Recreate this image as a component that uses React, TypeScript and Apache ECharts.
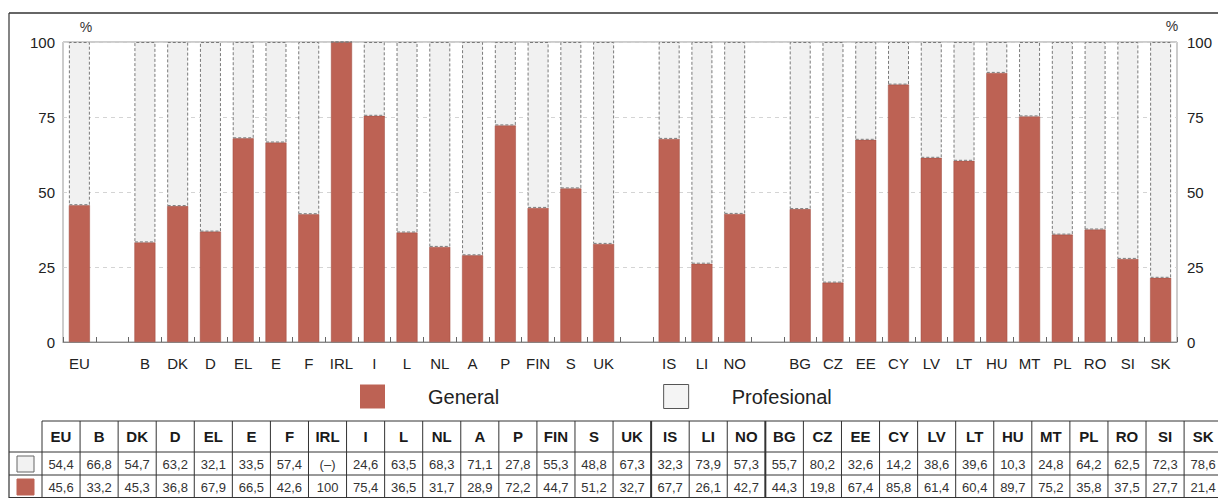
import React, { useEffect, useRef } from "react";
import * as echarts from "echarts";

// Table order (no gaps)
const countries = ["EU", "B", "DK", "D", "EL", "E", "F", "IRL", "I", "L", "NL", "A", "P", "FIN", "S", "UK", "IS", "LI", "NO", "BG", "CZ", "EE", "CY", "LV", "LT", "HU", "MT", "PL", "RO", "SI", "SK"];
const profesional: (number | null)[] = [54.4, 66.8, 54.7, 63.2, 32.1, 33.5, 57.4, null, 24.6, 63.5, 68.3, 71.1, 27.8, 55.3, 48.8, 67.3, 32.3, 73.9, 57.3, 55.7, 80.2, 32.6, 14.2, 38.6, 39.6, 10.3, 24.8, 64.2, 62.5, 72.3, 78.6];
const general: number[] = [45.6, 33.2, 45.3, 36.8, 67.9, 66.5, 42.6, 100, 75.4, 36.5, 31.7, 28.9, 72.2, 44.7, 51.2, 32.7, 67.7, 26.1, 42.7, 44.3, 19.8, 67.4, 85.8, 61.4, 60.4, 89.7, 75.2, 35.8, 37.5, 27.7, 21.4];
// Chart axis order (with empty gap slots)
const axisCategories = ["EU", " ", "B", "DK", "D", "EL", "E", "F", "IRL", "I", "L", "NL", "A", "P", "FIN", "S", "UK", "  ", "IS", "LI", "NO", "   ", "BG", "CZ", "EE", "CY", "LV", "LT", "HU", "MT", "PL", "RO", "SI", "SK"];
const yTicks = [0, 25, 50, 75, 100];
const seriesNames = ["General", "Profesional"];

const RED = "#bd6254";
const FONT = "'Liberation Sans', Arial, sans-serif";

function fmt(v: number | null): string {
  if (v === null) return "(–)";
  return Number.isInteger(v) ? String(v) : v.toFixed(1).replace(".", ",");
}

export default function App() {
  const ref = useRef<HTMLDivElement>(null);
  useEffect(() => {
    if (!ref.current) return;
    const chart = echarts.init(ref.current, null, { renderer: "svg" });

    const genData = axisCategories.map((c) => {
      const i = countries.indexOf(c);
      return i >= 0 ? general[i] : null;
    });
    const proData = axisCategories.map((c) => {
      const i = countries.indexOf(c);
      return i >= 0 ? (profesional[i] === null ? 0 : profesional[i]) : null;
    });

    // Table graphics
    const g: any[] = [];
    const x0 = 42;
    const colW = 38.07;
    const yH = 421, y1 = 452, y2 = 475, y3 = 498;
    const lineStyle = { stroke: "#333", lineWidth: 1 };
    g.push({ type: "line", shape: { x1: 9, y1: 13, x2: 1218, y2: 13 }, style: { stroke: "#333", lineWidth: 1.5 } });
    g.push({ type: "line", shape: { x1: 9, y1: 13, x2: 9, y2: 498 }, style: { stroke: "#333", lineWidth: 1.2 } });
    g.push({ type: "line", shape: { x1: x0, y1: yH, x2: 1218, y2: yH }, style: lineStyle });
    g.push({ type: "line", shape: { x1: 9, y1: y1, x2: 1218, y2: y1 }, style: lineStyle });
    g.push({ type: "line", shape: { x1: 9, y1: y2, x2: 1218, y2: y2 }, style: lineStyle });
    g.push({ type: "line", shape: { x1: 9, y1: y3 - 0.5, x2: 1218, y2: y3 - 0.5 }, style: lineStyle });
    for (let i = 0; i <= countries.length; i++) {
      const x = x0 + i * colW;
      const thick = i === 16 || i === 19;
      g.push({ type: "line", shape: { x1: x, y1: yH, x2: x, y2: y3 }, style: { stroke: "#333", lineWidth: thick ? 2 : 1 } });
    }
    countries.forEach((c, i) => {
      const cx = x0 + (i + 0.5) * colW;
      g.push({ type: "text", x: cx, y: (yH + y1) / 2, style: { text: c, font: `bold 15px ${FONT}`, fill: "#1a1a1a", align: "center", verticalAlign: "middle" } });
      g.push({ type: "text", x: cx, y: (y1 + y2) / 2 + 0.5, style: { text: fmt(profesional[i]), font: `13px ${FONT}`, fill: "#333", align: "center", verticalAlign: "middle" } });
      g.push({ type: "text", x: cx, y: (y2 + y3) / 2 + 0.5, style: { text: fmt(general[i]), font: `13px ${FONT}`, fill: "#333", align: "center", verticalAlign: "middle" } });
    });
    g.push({ type: "rect", shape: { x: 17, y: 456, width: 17, height: 16 }, style: { fill: "#f2f2f2", stroke: "#666", lineWidth: 1 } });
    g.push({ type: "rect", shape: { x: 17, y: 479, width: 17, height: 16 }, style: { fill: RED, stroke: RED, lineWidth: 1 } });
    // % labels
    g.push({ type: "text", x: 86, y: 27, style: { text: "%", font: `14px ${FONT}`, fill: "#333", align: "center", verticalAlign: "middle" } });
    g.push({ type: "text", x: 1172, y: 26, style: { text: "%", font: `14px ${FONT}`, fill: "#333", align: "center", verticalAlign: "middle" } });

    const yAxisBase = {
      type: "value",
      min: 0,
      max: 100,
      interval: 25,
      axisLine: { show: false },
      axisTick: { show: false },
      axisLabel: { fontSize: 15, color: "#222", fontFamily: FONT, customValues: yTicks },
    };

    chart.setOption({
      animation: false,
      backgroundColor: "#fff",
      textStyle: { fontFamily: FONT },
      grid: { left: 63, right: 41, top: 42, bottom: 156, show: true, borderColor: "#999", borderWidth: 1 },
      legend: {
        left: 355,
        top: 379,
        icon: "rect",
        itemWidth: 25,
        itemHeight: 24,
        itemGap: 164,
        textStyle: { fontSize: 20, color: "#222", fontFamily: FONT, padding: [0, 0, 0, 38] },
        data: [
          { name: seriesNames[0], itemStyle: { color: RED, borderWidth: 0 } },
          { name: seriesNames[1], itemStyle: { color: "#f4f4f4", borderColor: "#555", borderWidth: 1, borderType: "solid" } },
        ],
      },
      xAxis: {
        type: "category",
        data: axisCategories,
        axisLine: { lineStyle: { color: "#888" } },
        axisTick: { show: true, inside: true, length: 5, interval: 0, lineStyle: { color: "#666" } },
        axisLabel: { fontSize: 15, color: "#222", margin: 14, interval: 0, fontFamily: FONT },
      },
      yAxis: [
        { ...yAxisBase, position: "left", axisLabel: { ...yAxisBase.axisLabel, margin: 8 }, splitLine: { show: true, lineStyle: { color: "#d4d4d4", type: [4, 4], width: 1 } } },
        { ...yAxisBase, position: "right", axisLabel: { ...yAxisBase.axisLabel, margin: 10 }, splitLine: { show: false } },
      ],
      series: [
        {
          name: seriesNames[0],
          type: "bar",
          stack: "t",
          barWidth: 21,
          data: genData,
          itemStyle: { color: RED, borderColor: "#9e4a3f", borderWidth: 0.5 },
        },
        {
          name: seriesNames[1],
          type: "bar",
          stack: "t",
          barWidth: 21,
          data: proData,
          itemStyle: { color: "#f1f1f1", borderColor: "#7a7a7a", borderWidth: 1, borderType: [3, 2] },
        },
      ],
      graphic: g,
    });
    return () => chart.dispose();
  }, []);
  return <div ref={ref} style={{ position: "fixed", left: 0, top: 0, width: 1218, height: 498 }} />;
}
